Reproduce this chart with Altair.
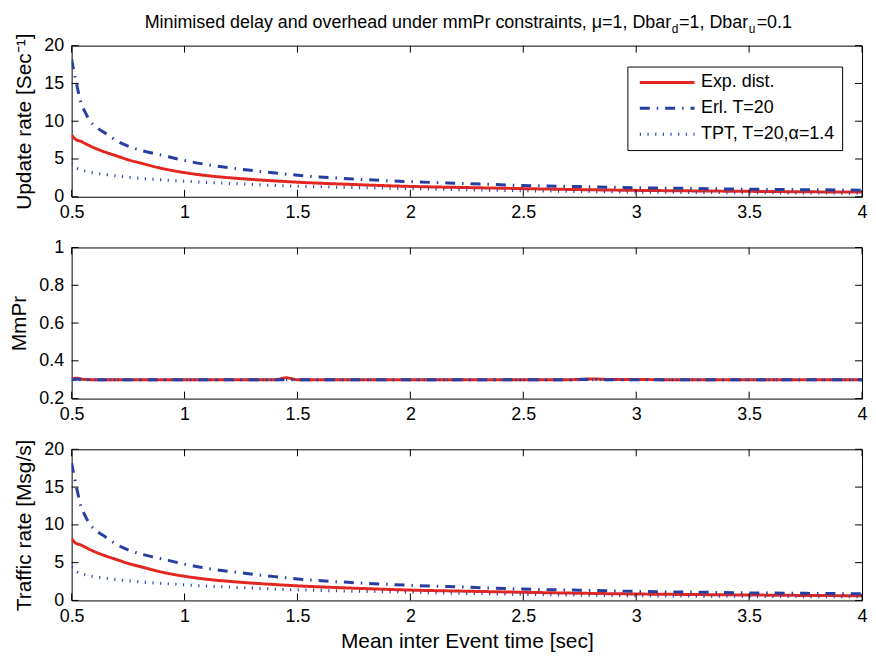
import altair as alt
import pandas as pd

FONT = "Liberation Sans"

# ---- data ----
x_vals = [0.50, 0.51, 0.52, 0.54, 0.56, 0.58, 0.61, 0.65, 0.70, 0.75, 0.80, 0.90,
          1.00, 1.10, 1.25, 1.40, 1.50, 1.75, 2.00, 2.25, 2.50, 2.75, 3.00, 3.25,
          3.50, 3.75, 4.00]
exp_vals = [8.2, 7.8, 7.55, 7.35, 7.05, 6.75, 6.35, 5.9, 5.4, 4.9, 4.5, 3.75,
            3.2, 2.8, 2.4, 2.1, 1.93, 1.62, 1.37, 1.22, 1.08, 0.95, 0.85, 0.78,
            0.72, 0.66, 0.62]
erl_vals = [18.2, 16.6, 15.2, 12.6, 11.2, 10.1, 9.2, 8.4, 7.4, 6.7, 6.2, 5.5,
            4.8, 4.25, 3.65, 3.15, 2.85, 2.35, 2.0, 1.75, 1.5, 1.35, 1.2, 1.1,
            1.0, 0.94, 0.88]
tpt_vals = [4.5, 4.1, 3.85, 3.55, 3.4, 3.25, 3.1, 2.95, 2.75, 2.6, 2.45, 2.25,
            2.06, 1.9, 1.7, 1.5, 1.4, 1.22, 1.08, 0.92, 0.8, 0.7, 0.62, 0.57,
            0.53, 0.5, 0.47]

xm_vals = [0.50, 0.52, 0.55, 0.60, 1.00, 1.40, 1.45, 1.50, 2.00, 2.70, 2.80, 2.90, 3.50, 4.00]
exp_m = [0.305, 0.308, 0.302, 0.300, 0.300, 0.300, 0.310, 0.300, 0.300, 0.300, 0.304, 0.301, 0.300, 0.300]
erl_m = [0.300, 0.302, 0.303, 0.300, 0.300, 0.300, 0.300, 0.300, 0.300, 0.300, 0.301, 0.300, 0.300, 0.300]
tpt_m = [0.300] * 14

SERIES = ["Exp. dist.", "Erl. T=20", "TPT, T=20,\u03b1=1.4"]
COLORS = ["#e3261f", "#263ea0", "#3346b0"]
DASHES = [[1, 0], [10, 7, 1.5, 7], [1.2, 6.5]]

x_ticks = [0.5, 1, 1.5, 2, 2.5, 3, 3.5, 4]
rate_ticks = [0, 5, 10, 15, 20]
mmpr_ticks = [0.2, 0.4, 0.6, 0.8, 1]

W, H = 795, 152


def long_df(xs, cols):
    rows = []
    for s, ys in zip(SERIES, cols):
        for xv, yv in zip(xs, ys):
            rows.append({"x": xv, "y": yv, "series": s})
    return pd.DataFrame(rows)


df_rate = long_df(x_vals, [exp_vals, erl_vals, tpt_vals])
df_mmpr = long_df(xm_vals, [exp_m, erl_m, tpt_m])

AX = dict(grid=False, ticks=False, domain=False, labelFont=FONT, titleFont=FONT,
          labelFontSize=18, titleFontSize=21, labelColor="black", titleColor="black",
          titleFontWeight="normal")


def make_panel(df, ydom, yticks, ytitle, xtitle, legend, extra=None):
    xscale = alt.Scale(domain=[0.5, 4], nice=False, zero=False)
    yscale = alt.Scale(domain=ydom, nice=False, zero=False)
    xaxis = alt.Axis(values=x_ticks, format="~g", title=xtitle, labelPadding=7,
                     labelFlush=False, titlePadding=5, **AX)
    yaxis = alt.Axis(values=yticks, format="~g", title=ytitle, labelPadding=8,
                     titlePadding=9, **AX)
    X = alt.X("x:Q", scale=xscale, axis=xaxis)
    Y = alt.Y("y:Q", scale=yscale, axis=yaxis)
    color = alt.Color("series:N", scale=alt.Scale(domain=SERIES, range=COLORS), legend=legend)
    dash = alt.StrokeDash("series:N", scale=alt.Scale(domain=SERIES, range=DASHES), legend=legend)
    layers = []
    for s in SERIES:
        layers.append(
            alt.Chart(df).transform_filter(alt.datum.series == s)
            .mark_line(strokeWidth=3, strokeCap="butt", interpolate="monotone", clip=True)
            .encode(x=X, y=Y, color=color, strokeDash=dash)
        )
    xt = pd.DataFrame({"x": x_ticks})
    yt = pd.DataFrame({"y": yticks})
    tl = 7
    layers += [
        alt.Chart(xt).mark_rule(color="black", strokeWidth=1).encode(x=X, y=alt.value(0), y2=alt.value(tl)),
        alt.Chart(xt).mark_rule(color="black", strokeWidth=1).encode(x=X, y=alt.value(H), y2=alt.value(H - tl)),
        alt.Chart(yt).mark_rule(color="black", strokeWidth=1).encode(y=Y, x=alt.value(0), x2=alt.value(tl)),
        alt.Chart(yt).mark_rule(color="black", strokeWidth=1).encode(y=Y, x=alt.value(W), x2=alt.value(W - tl)),
    ]
    if extra:
        layers += extra
    return alt.layer(*layers).properties(width=W, height=H)


tdf = pd.DataFrame({"k": [0]})


def txt(s, x, y, size, align="left"):
    return alt.Chart(tdf).mark_text(text=s, align=align, baseline="alphabetic", fontSize=size,
                                    font=FONT, color="black").encode(x=alt.value(x), y=alt.value(y))


title_layers = [
    txt("Minimised delay and overhead under mmPr constraints, \u03bc=1, Dbar", 603, -18, 18, "right"),
    txt("d", 603.5, -13, 12),
    txt("=1, Dbar", 611, -18, 18),
    txt("u", 681, -13, 12),
    txt("=0.1", 689, -18, 18),
]

legend = alt.Legend(title=None, orient="none", legendX=559, legendY=21, symbolType="stroke",
                    symbolSize=3025, symbolStrokeWidth=3, labelFontSize=18, labelFont=FONT,
                    labelColor="black", strokeColor="black", fillColor="white", padding=7,
                    clipHeight=18, rowPadding=8, symbolOffset=4, labelOffset=5)

p1 = make_panel(df_rate, [0, 20], rate_ticks, "Update rate [Sec\u207b\u00b9]", None, legend, title_layers)
p2 = make_panel(df_mmpr, [0.2, 1], mmpr_ticks, "MmPr", None, None)
p3 = make_panel(df_rate, [0, 20], rate_ticks, "Traffic rate [Msg/s]", "Mean inter Event time [sec]", None)

chart = (
    alt.vconcat(p1, p2, p3, spacing=51, bounds="flush")
    .resolve_legend(color="independent", strokeDash="independent")
    .properties(padding={"left": 0, "top": 3, "right": 0, "bottom": 0})
    .configure_view(stroke="black", strokeWidth=1)
)

chart.save("out.html", embed_options={"renderer": "svg", "actions": False})
